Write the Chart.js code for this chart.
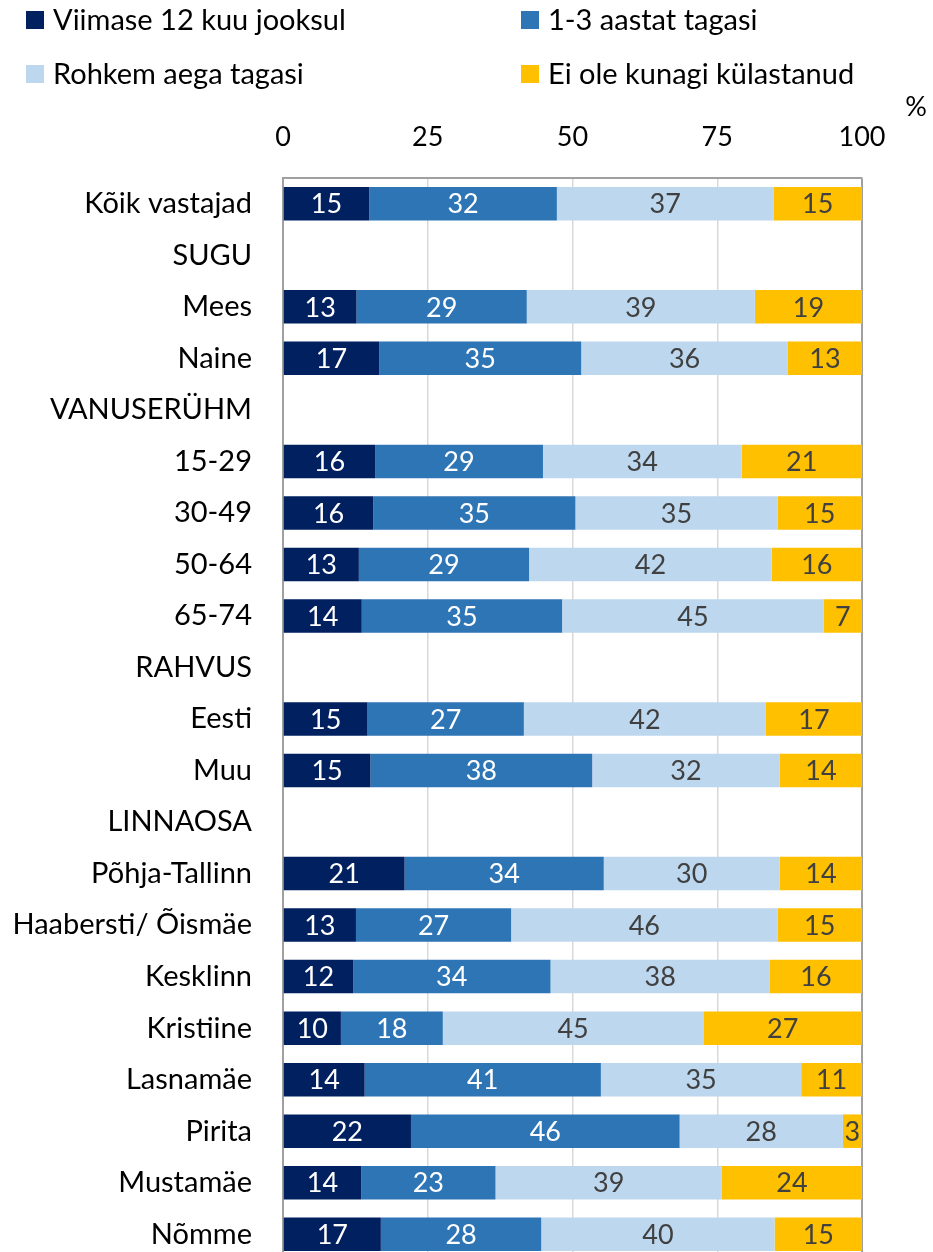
<!DOCTYPE html>
<html lang="et">
<head>
<meta charset="utf-8">
<title>Külastamine</title>
<script src="https://cdn.jsdelivr.net/npm/chart.js@4.4.1/dist/chart.umd.min.js"></script>
<style>
  html, body { margin: 0; padding: 0; background: #fff; overflow: hidden; }
  #wrap { width: 933px; height: 1260px; }
</style>
</head>
<body>
<div id="wrap"><canvas id="visitChart" width="933" height="1260"></canvas></div>
<script>
// rühmad (pealkirjaread on tühjad)
const categories = [
  "Kõik vastajad", "SUGU", "Mees", "Naine", "VANUSERÜHM", "15-29", "30-49", "50-64", "65-74",
  "RAHVUS", "Eesti", "Muu", "LINNAOSA", "Põhja-Tallinn", "Haabersti/ Õismäe", "Kesklinn",
  "Kristiine", "Lasnamäe", "Pirita", "Mustamäe", "Nõmme"
];
const seriesNames = ["Viimase 12 kuu jooksul", "1-3 aastat tagasi", "Rohkem aega tagasi", "Ei ole kunagi külastanud"];
const seriesColors = ["#002060", "#2e75b6", "#bdd7ee", "#ffc000"];
const labelColors = ["#ffffff", "#ffffff", "#404040", "#404040"];

const last12 = [14.9, null, 12.7, 16.6, null, 15.9, 15.6, 13.1, 13.6, null, 14.6, 15.1, null, 21.0, 12.6, 12.1, 10.0, 14.1, 22.1, 13.5, 16.9];
const years13 = [32.4, null, 29.4, 34.9, null, 29.0, 34.9, 29.4, 34.6, null, 27.0, 38.3, null, 34.4, 26.8, 34.1, 17.6, 40.8, 46.4, 23.2, 27.7];
const longer = [37.4, null, 39.4, 35.7, null, 34.3, 34.9, 41.9, 45.2, null, 41.8, 32.4, null, 30.4, 46.0, 37.9, 45.0, 34.6, 28.2, 39.1, 40.3];
const never = [15.3, null, 18.5, 12.8, null, 20.8, 14.6, 15.6, 6.6, null, 16.6, 14.2, null, 14.2, 14.6, 15.9, 27.4, 10.5, 3.3, 24.2, 15.1];
const xTicks = [0, 25, 50, 75, 100];

const FONT = "Lato, 'Open Sans', sans-serif";

// väärtused ribade sisse, legend ja % märk
const extras = {
  id: "extras",
  afterDatasetsDraw(chart) {
    const ctx = chart.ctx;
    ctx.save();
    ctx.font = "27px " + FONT;
    ctx.textAlign = "center";
    ctx.textBaseline = "middle";
    chart.data.datasets.forEach((ds, i) => {
      const meta = chart.getDatasetMeta(i);
      meta.data.forEach((bar, j) => {
        const v = ds.data[j];
        if (v == null) return;
        ctx.fillStyle = labelColors[i];
        ctx.fillText(Math.round(v), (bar.x + bar.base) / 2, bar.y + 1);
      });
    });
    ctx.restore();
  },
  afterDraw(chart) {
    const ctx = chart.ctx;
    ctx.save();
    ctx.font = "29px " + FONT;
    ctx.textBaseline = "middle";
    const cols = [26, 521], rows = [20, 74];
    chart.data.datasets.forEach((ds, i) => {
      const x = cols[i % 2], y = rows[Math.floor(i / 2)];
      ctx.fillStyle = ds.backgroundColor;
      ctx.fillRect(x, y - 9, 18, 18);
      ctx.fillStyle = "#000";
      ctx.fillText(ds.label, x + 27, y + 1);
    });
    ctx.font = "27px " + FONT;
    ctx.textAlign = "center";
    ctx.fillText("%", 916, 107);
    ctx.restore();
  }
};

const ctx = document.getElementById("visitChart").getContext("2d");

new Chart(ctx, {
  type: "bar",
  data: {
    labels: categories,
    datasets: [last12, years13, longer, never].map((d, i) => ({
      label: seriesNames[i],
      data: d,
      backgroundColor: seriesColors[i],
      borderWidth: 0,
      barPercentage: 0.65,
      categoryPercentage: 1
    }))
  },
  options: {
    indexAxis: "y",
    responsive: false,
    animation: false,
    layout: { padding: { top: 100, right: 71, left: 0, bottom: 0 } },
    plugins: { legend: { display: false }, tooltip: { enabled: false } },
    scales: {
      x: {
        position: "top",
        stacked: true,
        min: 0,
        max: 100,
        afterBuildTicks: s => { s.ticks = xTicks.map(v => ({ value: v })); },
        afterFit: s => { s.height = 78; },
        ticks: { font: { family: FONT, size: 27 }, color: "#000", padding: 25 },
        grid: {
          drawTicks: false,
          color: c => c.tick && c.tick.value === 100 ? "#a0a0a0" : "#d9d9d9",
          lineWidth: c => c.tick && c.tick.value === 100 ? 2 : 1.5
        },
        border: { display: true, color: "#a0a0a0", width: 2 }
      },
      y: {
        stacked: true,
        afterFit: s => { s.width = 283; s.paddingTop = 0; s.paddingBottom = 0; },
        ticks: { font: { family: FONT, size: 29 }, color: "#000", padding: 31 },
        grid: { display: false, drawTicks: false },
        border: { display: true, color: "#a0a0a0", width: 2 }
      }
    }
  },
  plugins: [extras]
});
</script>
</body>
</html>
